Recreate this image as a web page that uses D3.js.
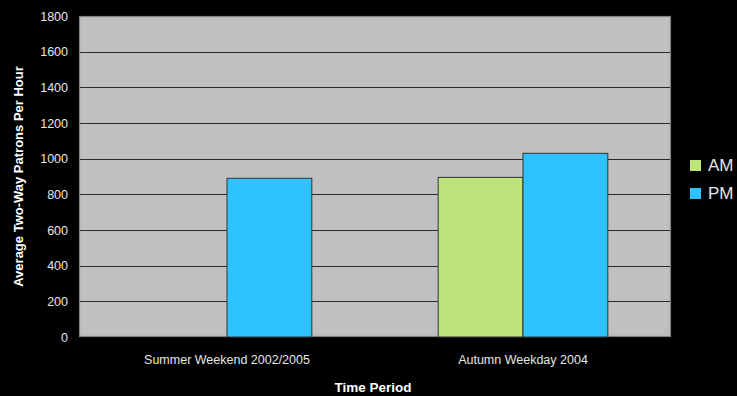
<!DOCTYPE html>
<html>
<head>
<meta charset="utf-8">
<script src="https://cdn.jsdelivr.net/npm/d3@7"></script>
<style>
  html, body { margin: 0; padding: 0; background: #000; }
  svg { display: block; }
  text { font-family: "Liberation Sans Narrow", "Arial Narrow", "Liberation Sans", sans-serif; }
</style>
</head>
<body>
<svg id="chart" width="737" height="396"></svg>
<script>
// Average two-way patrons per hour by time period
const categories = ["Summer Weekend 2002/2005", "Autumn Weekday 2004"];
const seriesNames = ["AM", "PM"];
const amValues = [0, 895];
const pmValues = [890, 1030];
const yTicks = [0, 200, 400, 600, 800, 1000, 1200, 1400, 1600, 1800];
const colors = { AM: "#bde47a", PM: "#2ec2ff" };

const svg = d3.select("#chart");
const W = 737, H = 396;
svg.append("rect").attr("width", W).attr("height", H).attr("fill", "#000");

const plot = { left: 79, top: 16, right: 671, bottom: 337 };

const x0 = d3.scaleBand().domain(categories)
  .range([plot.left, plot.right]).paddingInner(0).paddingOuter(0);
const x1 = d3.scaleBand().domain(seriesNames)
  .range([0, x0.bandwidth()]).paddingOuter(0.745).paddingInner(0);
const y = d3.scaleLinear().domain([0, 1800]).range([plot.bottom, plot.top]);

// plot background
svg.append("rect")
  .attr("x", plot.left).attr("y", plot.top)
  .attr("width", plot.right - plot.left).attr("height", plot.bottom - plot.top)
  .attr("fill", "#c0c0c0");

// horizontal gridlines
svg.append("g").selectAll("line").data(yTicks.filter(t => t > 0 && t < 1800)).join("line")
  .attr("x1", plot.left).attr("x2", plot.right)
  .attr("y1", d => Math.round(y(d)) + 0.5).attr("y2", d => Math.round(y(d)) + 0.5)
  .attr("stroke", "#2a2a2a").attr("stroke-width", 1);

// plot border
svg.append("rect")
  .attr("x", plot.left + 0.5).attr("y", plot.top + 0.5)
  .attr("width", plot.right - plot.left - 1).attr("height", plot.bottom - plot.top - 1)
  .attr("fill", "none").attr("stroke", "#7f7f7f").attr("stroke-width", 1.2);

// bars
const rows = categories.map((c, i) => ({ cat: c, AM: amValues[i], PM: pmValues[i] }));
const groups = svg.append("g").selectAll("g").data(rows).join("g")
  .attr("transform", d => `translate(${x0(d.cat)},0)`);
groups.selectAll("rect")
  .data(d => seriesNames.map(s => ({ key: s, value: d[s] })).filter(e => e.value > 0))
  .join("rect")
  .attr("x", d => x1(d.key))
  .attr("y", d => y(d.value))
  .attr("width", x1.bandwidth())
  .attr("height", d => y(0) - y(d.value))
  .attr("fill", d => colors[d.key])
  .attr("stroke", "#333")
  .attr("stroke-width", 1);

// y axis labels
const yAxis = d3.axisLeft(y).tickValues(yTicks).tickFormat(d3.format("d")).tickSize(0).tickPadding(11);
const gy = svg.append("g").attr("transform", `translate(${plot.left},0)`).call(yAxis);
gy.select(".domain").remove();
gy.selectAll("text")
  .attr("fill", "#e6e6e6")
  .style("font-family", "'Liberation Sans', sans-serif")
  .style("font-size", "12.5px");

// x axis labels
const xAxis = d3.axisBottom(x0).tickSize(0).tickPadding(18);
const gx = svg.append("g").attr("transform", `translate(0,${plot.bottom})`).call(xAxis);
gx.select(".domain").remove();
gx.selectAll("text")
  .attr("fill", "#e6e6e6")
  .style("font-size", "12.5px");

// axis titles
svg.append("text")
  .attr("transform", `translate(23,${(plot.top + plot.bottom) / 2}) rotate(-90)`)
  .attr("text-anchor", "middle")
  .attr("fill", "#ffffff")
  .style("font-weight", "bold")
  .style("font-size", "13px")
  .text("Average Two-Way Patrons Per Hour");

svg.append("text")
  .attr("x", (plot.left + plot.right) / 2 - 2).attr("y", 392)
  .attr("text-anchor", "middle")
  .attr("fill", "#ffffff")
  .style("font-weight", "bold")
  .style("font-size", "13.5px")
  .text("Time Period");

// legend
const legend = svg.append("g").attr("transform", "translate(690,160)");
const items = legend.selectAll("g").data(seriesNames).join("g")
  .attr("transform", (d, i) => `translate(0,${i * 28})`);
items.append("rect")
  .attr("width", 11).attr("height", 11)
  .attr("fill", d => colors[d]);
items.append("text")
  .attr("x", 18).attr("y", 11)
  .attr("fill", "#e6e6e6")
  .style("font-family", "'Liberation Sans', sans-serif")
  .style("font-size", "17px")
  .text(d => d);
</script>
</body>
</html>
